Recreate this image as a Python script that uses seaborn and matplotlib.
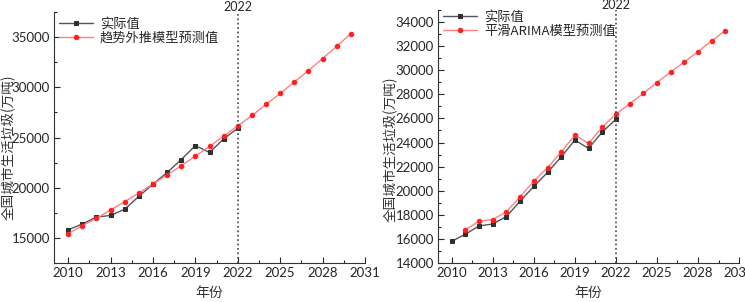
import matplotlib
matplotlib.use('Agg')
from matplotlib import pyplot as plt
from matplotlib.ticker import MultipleLocator
import pandas as pd
import seaborn as sns

years_actual = list(range(2010, 2023))
actual = [15805, 16395, 17081, 17239, 17860, 19142, 20362, 21521, 22802, 24206, 23512, 24869, 25930]

years_trend = list(range(2010, 2031))
trend = [15430, 16220, 16950, 17790, 18610, 19480, 20370, 21270, 22190, 23160, 24115,
         25150, 26170, 27200, 28300, 29390, 30550, 31680, 32870, 34100, 35360]

years_arima = list(range(2011, 2031))
arima = [16760, 17480, 17610, 18250, 19510, 20790, 21910, 23210, 24620, 23930,
         25280, 26360, 27210, 28070, 28980, 29840, 30690, 31550, 32430, 33290]

x_ticks = [2010, 2013, 2016, 2019, 2022, 2025, 2028, 2031]

sns.set_style('ticks')
plt.rcParams['font.family'] = ['Lato', 'Noto Sans CJK SC', 'DejaVu Sans']
cjk = ['Noto Sans CJK SC', 'DejaVu Sans']

fig = plt.figure(figsize=(7.45, 3.02), dpi=100)
ax1 = fig.add_axes([0.0725, 0.129, 0.4175, 0.831])
ax2 = fig.add_axes([0.588, 0.129, 0.404, 0.838])

gray_kw = dict(color='#555555', marker='s', markersize=3.2, linewidth=1,
               markerfacecolor='#303030', markeredgecolor='#303030')
red_kw = dict(color='#ff8080', marker='o', markersize=3.2, linewidth=1,
              markerfacecolor='#ff2020', markeredgecolor='#ff2020')

df_a = pd.DataFrame({'year': years_actual, 'value': actual})
df_t = pd.DataFrame({'year': years_trend, 'value': trend})
df_r = pd.DataFrame({'year': years_arima, 'value': arima})

sns.lineplot(data=df_a, x='year', y='value', ax=ax1, label='实际值', **gray_kw)
sns.lineplot(data=df_t, x='year', y='value', ax=ax1, label='趋势外推模型预测值', **red_kw)
sns.lineplot(data=df_a, x='year', y='value', ax=ax2, label='实际值', **gray_kw)
sns.lineplot(data=df_r, x='year', y='value', ax=ax2, label='平滑ARIMA模型预测值', **red_kw)

ax1.set_ylim(12500, 37500)
ax1.yaxis.set_major_locator(MultipleLocator(5000))
ax1.yaxis.set_minor_locator(MultipleLocator(2500))
ax2.set_ylim(14000, 35000)
ax2.yaxis.set_major_locator(MultipleLocator(2000))
ax2.yaxis.set_minor_locator(MultipleLocator(1000))

legend_anchor = {ax1: (0.008, 0.989), ax2: (0.008, 1.009)}
# label coords give the right edge of the rotated label
label_pos = {ax1: (-0.123, 0.46), ax2: (-0.135, 0.451)}

for ax in (ax1, ax2):
    ax.set_xlim(2009, 2031)
    ax.set_xticks(x_ticks)
    ax.xaxis.set_minor_locator(MultipleLocator(1.5))
    ax.tick_params(which='major', direction='in', length=4, width=0.8, labelsize=9.5, pad=3)
    ax.tick_params(which='minor', direction='in', length=2.5, width=0.8)
    sns.despine(ax=ax)
    ax.spines['left'].set_color('#333333')
    ax.spines['bottom'].set_color('#333333')
    ax.axvline(2022, color='#444444', linestyle=':', linewidth=1.2)
    ax.text(2022, 0.997, '2022', transform=ax.get_xaxis_transform(),
            ha='center', va='bottom', fontsize=9)
    ax.set_xlabel('年份', family=cjk, fontsize=10, color='#333333', labelpad=5)
    ax.set_ylabel('全国城市生活垃圾(万吨)', family=cjk, fontsize=9.8, color='#333333')
    ax.yaxis.set_label_coords(*label_pos[ax])
    ax.legend(loc='upper left', bbox_to_anchor=legend_anchor[ax], frameon=False,
              prop={'family': cjk, 'size': 9.5}, handlelength=2.6, handletextpad=0.5,
              borderaxespad=0, labelspacing=0.1, borderpad=0.2)

plt.savefig('out.png', dpi=100)
